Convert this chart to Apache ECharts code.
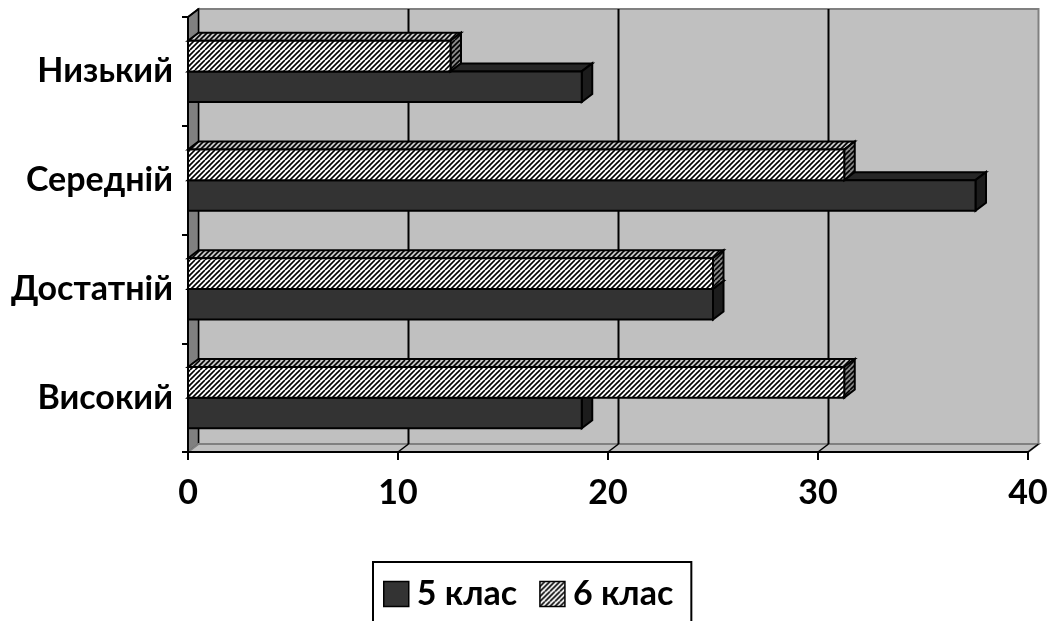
<!DOCTYPE html>
<html>
<head>
<meta charset="utf-8">
<script src="https://cdn.jsdelivr.net/npm/echarts@6/dist/echarts.min.js"></script>
<style>
html,body{margin:0;padding:0;background:#fff;}
#chart{width:1055px;height:621px;}
</style>
</head>
<body>
<div id="chart"></div>
<script>
// ---- data ----
const categories = ['Високий', 'Достатній', 'Середній', 'Низький'];
const class5 = [18.75, 25, 37.5, 18.75];
const class6 = [31.25, 25, 31.25, 12.5];
const seriesNames = ['5 клас', '6 клас'];
const xTicks = [0, 10, 20, 30, 40];

// ---- styling helpers ----
const FONT = 'Lato';
const DX = 10.5, DY = 8;

function makePattern(bg, fg) {
  const s = 10;
  const c = document.createElement('canvas');
  c.width = s; c.height = s;
  const ctx = c.getContext('2d');
  ctx.fillStyle = bg;
  ctx.fillRect(0, 0, s, s);
  ctx.strokeStyle = fg;
  ctx.lineWidth = 1.6;
  for (let k = -s; k <= 2 * s; k += 5) {
    ctx.beginPath();
    ctx.moveTo(k, s);
    ctx.lineTo(k + s, 0);
    ctx.stroke();
  }
  return { image: c, repeat: 'repeat' };
}
const hatchFront = makePattern('#ffffff', '#000000');
const hatchTop = makePattern('#c8c8c8', '#000000');
const hatchSide = makePattern('#8a8a8a', '#000000');

const faces = [
  { front: '#333333', top: '#262626', side: '#1c1c1c' },
  { front: hatchFront, top: hatchTop, side: hatchSide }
];

function barRenderer(sIdx) {
  return function (params, api) {
    const v = api.value(0), c = api.value(1);
    const p0 = api.coord([0, c]);
    const p1 = api.coord([v, c]);
    const band = api.size([0, 1])[1];
    const h = band * 0.282;
    const x0 = p0[0], x1 = p1[0];
    const y = sIdx === 0 ? p0[1] : p0[1] - h;
    const f = faces[sIdx];
    const stroke = { stroke: '#000', lineWidth: 2, lineJoin: 'miter' };
    return {
      type: 'group',
      children: [
        { type: 'polygon', shape: { points: [[x0, y], [x0 + DX, y - DY], [x1 + DX, y - DY], [x1, y]] },
          style: Object.assign({ fill: f.top }, stroke) },
        { type: 'polygon', shape: { points: [[x1, y], [x1 + DX, y - DY], [x1 + DX, y + h - DY], [x1, y + h]] },
          style: Object.assign({ fill: f.side }, stroke) },
        { type: 'rect', shape: { x: x0, y: y, width: x1 - x0, height: h },
          style: Object.assign({ fill: f.front }, stroke) }
      ]
    };
  };
}

function wallRenderer(params, api) {
  const cs = params.coordSys;
  const gx = cs.x, gy = cs.y, gw = cs.width, gh = cs.height;
  const children = [];
  // back wall
  children.push({ type: 'rect', shape: { x: gx + DX, y: gy - DY, width: gw, height: gh },
    style: { fill: '#c0c0c0', stroke: '#808080', lineWidth: 2 } });
  // side wall
  children.push({ type: 'polygon', shape: { points: [[gx, gy], [gx + DX, gy - DY], [gx + DX, gy + gh - DY], [gx, gy + gh]] },
    style: { fill: '#808080', stroke: '#000', lineWidth: 1.5 } });
  // floor
  children.push({ type: 'polygon', shape: { points: [[gx, gy + gh], [gx + DX, gy + gh - DY], [gx + gw + DX, gy + gh - DY], [gx + gw, gy + gh]] },
    style: { fill: '#c0c0c0', stroke: '#808080', lineWidth: 2 } });
  // gridlines on wall + floor diagonals
  xTicks.forEach(function (t, i) {
    const x = api.coord([t, 0])[0];
    if (i > 0 && i < xTicks.length - 1) {
      children.push({ type: 'line', shape: { x1: x + DX, y1: gy - DY, x2: x + DX, y2: gy + gh - DY },
        style: { stroke: '#000', lineWidth: 2 } });
    }
    if (i > 0) {
      children.push({ type: 'line', shape: { x1: x, y1: gy + gh, x2: x + DX, y2: gy + gh - DY },
        style: { stroke: '#000', lineWidth: 1.5 } });
    }
  });
  // top-left diagonal of category axis
  children.push({ type: 'line', shape: { x1: gx, y1: gy, x2: gx + DX, y2: gy - DY },
    style: { stroke: '#000', lineWidth: 2 } });
  return { type: 'group', children: children };
}

const labelStyle = { fontFamily: FONT, fontWeight: 'bold', fontSize: 34, color: '#000' };

const option = {
  animation: false,
  backgroundColor: '#ffffff',
  grid: { left: 188, right: 27, top: 17, bottom: 169, containLabel: false },
  xAxis: {
    type: 'value', min: 0, max: 40, interval: 10, z: 10,
    axisLine: { show: true, lineStyle: { color: '#000', width: 2 } },
    axisTick: { show: true, length: 8, lineStyle: { color: '#000', width: 2 } },
    axisLabel: Object.assign({ margin: 24 }, labelStyle),
    splitLine: { show: false }
  },
  yAxis: {
    type: 'category', data: categories, z: 10,
    axisLine: { show: true, lineStyle: { color: '#000', width: 2 } },
    axisTick: { show: true, length: 6, lineStyle: { color: '#000', width: 2 } },
    axisLabel: Object.assign({ margin: 15 }, labelStyle),
    splitLine: { show: false }
  },
  legend: {
    left: 373, top: 562,
    orient: 'horizontal',
    borderColor: '#000', borderWidth: 2,
    padding: [15, 18, 30, 10],
    itemWidth: 25, itemHeight: 25, itemGap: 22,
    textStyle: Object.assign({ padding: [0, 0, 0, 3] }, labelStyle),
    data: [
      { name: seriesNames[0], icon: 'rect', itemStyle: { color: '#333333', borderColor: '#000', borderWidth: 1.5 } },
      { name: seriesNames[1], icon: 'rect', itemStyle: { color: hatchFront, borderColor: '#000', borderWidth: 1.5 } }
    ]
  },
  series: [
    {
      type: 'custom', name: '_wall', z: 1, silent: true,
      renderItem: wallRenderer,
      data: [[0, 0]],
      encode: { x: 0, y: 1 }
    },
    {
      type: 'custom', name: seriesNames[0], z: 2,
      renderItem: barRenderer(0),
      data: class5.map(function (v, i) { return [v, i]; }),
      encode: { x: 0, y: 1 },
      itemStyle: { color: '#333333' }
    },
    {
      type: 'custom', name: seriesNames[1], z: 3,
      renderItem: barRenderer(1),
      data: class6.map(function (v, i) { return [v, i]; }),
      encode: { x: 0, y: 1 },
      itemStyle: { color: hatchFront }
    }
  ]
};

const chart = echarts.init(document.getElementById('chart'), null, { renderer: 'canvas' });
chart.setOption(option);
</script>
</body>
</html>
